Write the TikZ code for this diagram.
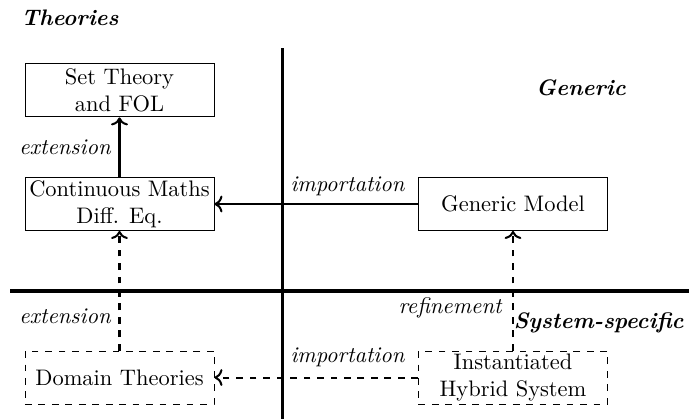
\documentclass[tikz,border=0pt]{standalone}
\usepackage{tikz}
\usetikzlibrary{arrows.meta,calc,positioning}

\begin{document}
\begin{tikzpicture}[x=0.4455pt,y=-0.4455pt]

\begin{scope}[box/.style={rectangle,draw,align=center,inner sep=1pt,minimum width=84.2pt,minimum height=23.6pt},dbox/.style={box,dashed},lbl/.style={font=\itshape,inner sep=0pt},zone/.style={font=\bfseries\itshape,inner sep=0pt},axis/.style={line width=1.6pt},arc/.style={line width=0.9pt,-{To[]}}]
\useasboundingbox (0,0) rectangle (689,419);
% Nodes
\node[box] (cont) at (119.5,204) {Continuous Maths\\Diff. Eq.};
\node[box,above of = cont,node distance=50.6pt] (set) {Set Theory\\and FOL};
\node[box,right of = cont,node distance=175.3pt] (gen) {Generic Model};
\node[dbox,below of = cont,node distance=77.3pt] (dom) {Domain Theories};
\node[dbox,right of = dom,node distance=175.3pt] (inst) {Instantiated\\Hybrid System};

% quadrants
\coordinate (vtop) at (282.5,48);
\coordinate (vbot) at (282.5,419);
\coordinate (hleft) at (10,290.7);
\coordinate (hright) at (689,290.7);
\path (vtop) edge[axis] (vbot);
\path (hleft) edge[axis] (hright);

\node[zone,anchor=west] (theo) at (21,18) {Theories};
\node[zone] (generic) at (581,88) {Generic};
\node[zone,anchor=east] (sysspec) at (684,323) {System-specific};

%arcs
\path (cont) edge[arc] (set);
\path (gen) edge[arc] (cont);
\path (dom) edge[arc,dashed] (cont);
\path (inst) edge[arc,dashed] (gen);
\path (inst) edge[arc,dashed] (dom);

\node[lbl] (ext1) at (65,147) {extension};
\node[lbl] (imp1) at (347.5,186) {importation};
\node[lbl] (ext2) at (65,316) {extension};
\node[lbl,anchor=east] (ref) at (502,308) {refinement};
\node[lbl] (imp2) at (347.5,357) {importation};

\end{scope}

\end{tikzpicture}
\end{document}
